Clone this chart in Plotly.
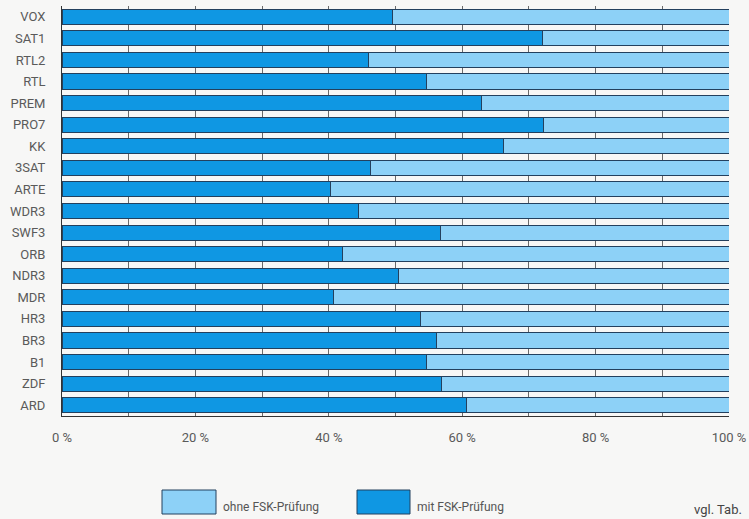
import plotly.graph_objects as go

channels = ["VOX", "SAT1", "RTL2", "RTL", "PREM", "PRO7", "KK", "3SAT", "ARTE", "WDR3",
            "SWF3", "ORB", "NDR3", "MDR", "HR3", "BR3", "B1", "ZDF", "ARD"]
mit_fsk = [49.5, 72.1, 46.0, 54.7, 62.9, 72.2, 66.2, 46.2, 40.3, 44.5,
           56.8, 42.0, 50.5, 40.7, 53.7, 56.2, 54.6, 56.9, 60.7]
ohne_fsk = [50.5, 27.9, 54.0, 45.3, 37.1, 27.8, 33.8, 53.8, 59.7, 55.5,
            43.2, 58.0, 49.5, 59.3, 46.3, 43.8, 45.4, 43.1, 39.3]
x_tickvals = [0, 10, 20, 30, 40, 50, 60, 70, 80, 90, 100]
x_ticktext = ["0 %", "", "20 %", "", "40 %", "", "60 %", "", "80 %", "", "100 %"]
legend_names = ["ohne FSK-Prüfung", "mit FSK-Prüfung"]

DARK = "#0f97e3"
LIGHT = "#8dd1f7"
EDGE = "#23405e"
BG = "#f7f7f6"
FONT = "Roboto, Liberation Sans, sans-serif"

fig = go.Figure()
fig.add_trace(go.Bar(y=channels, x=mit_fsk, orientation="h", name=legend_names[1],
                     marker=dict(color=DARK, line=dict(color=EDGE, width=1)),
                     showlegend=False))
fig.add_trace(go.Bar(y=channels, x=ohne_fsk, orientation="h", name=legend_names[0],
                     marker=dict(color=LIGHT, line=dict(color=EDGE, width=1)),
                     showlegend=False))

W, H = 749, 519
ml, mr, mt, mb = 62, 20, 6, 103

fig.update_layout(
    width=W, height=H, barmode="stack", bargap=0.3,
    margin=dict(l=ml, r=mr, t=mt, b=mb, pad=0, autoexpand=False),
    paper_bgcolor=BG, plot_bgcolor=BG,
    font=dict(family=FONT, size=13, color="#5a5a5a"),
    xaxis=dict(range=[0, 100], tickvals=x_tickvals, ticktext=x_ticktext,
               showgrid=True, gridcolor="#6a6a6a", gridwidth=1,
               zeroline=False, showline=True, linecolor="#333", linewidth=1,
               ticks="", ticklabelstandoff=9, fixedrange=True, automargin=False),
    yaxis=dict(autorange="reversed", showgrid=False, zeroline=False,
               showline=True, linecolor="#333", linewidth=1,
               ticks="", ticklabelstandoff=13, fixedrange=True, automargin=False),
)

pw = W - ml - mr
ph = H - mt - mb


def fx(x):
    return (x - ml) / pw


def fy(y):
    return (H - mb - y) / ph


shapes = []
annotations = []
boxes = [(162, 216, LIGHT, legend_names[0]), (357, 410, DARK, legend_names[1])]
for x0, x1, col, label in boxes:
    shapes.append(dict(type="rect", xref="paper", yref="paper",
                       x0=fx(x0), x1=fx(x1), y0=fy(514), y1=fy(490),
                       fillcolor=col, line=dict(color=EDGE, width=1)))
    annotations.append(dict(xref="paper", yref="paper", x=fx(x1 + 5), y=fy(507),
                            text=label, showarrow=False, xanchor="left", yanchor="middle",
                            font=dict(size=12, color="#555")))
annotations.append(dict(xref="paper", yref="paper", x=fx(744), y=fy(509),
                        text="vgl. Tab.", showarrow=False, xanchor="right", yanchor="middle",
                        font=dict(size=13, color="#444")))
fig.update_layout(shapes=shapes, annotations=annotations)

fig.write_html("out.html")
